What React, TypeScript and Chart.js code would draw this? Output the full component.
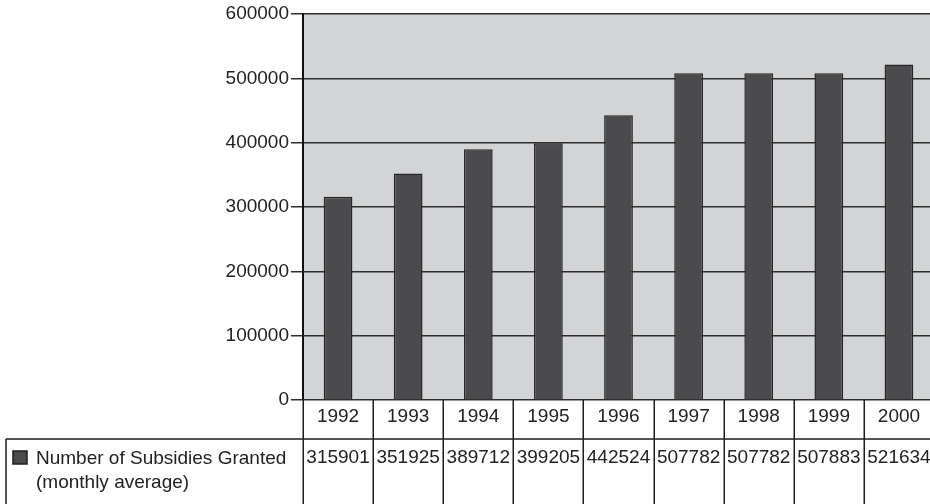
import { useEffect, useRef } from 'react';
import { Chart, registerables } from 'chart.js';

Chart.register(...registerables);

const FONT = '"Liberation Sans", Arial, Helvetica, sans-serif';

const years = ['1992', '1993', '1994', '1995', '1996', '1997', '1998', '1999', '2000'];
const subsidies = [315901, 351925, 389712, 399205, 442524, 507782, 507782, 507883, 521634];
const seriesLabelLines = ['Number of Subsidies Granted', '(monthly average)'];
const yMin = 0;
const yMax = 600000;
const yStep = 100000;

export default function App() {
  const ref = useRef<HTMLCanvasElement>(null);

  useEffect(() => {
    document.body.style.margin = '0';
    if (!ref.current) return;

    const bgPlugin = {
      id: 'plotBg',
      beforeDraw(chart: any) {
        const { ctx, chartArea: a } = chart;
        ctx.save();
        ctx.fillStyle = '#d3d4d6';
        ctx.fillRect(a.left, a.top, a.right - a.left, a.bottom - a.top);
        ctx.restore();
      },
    };

    const tablePlugin = {
      id: 'dataTable',
      afterDraw(chart: any) {
        const { ctx, chartArea: a } = chart;
        const x = chart.scales.x;
        const n = years.length;
        const step = x.getPixelForValue(1) - x.getPixelForValue(0);
        const first = x.getPixelForValue(0) - step / 2;
        const rowTop = a.bottom;
        const row1Bottom = rowTop + 39;
        const bottom = chart.height;
        const tableLeft = 6;

        ctx.save();
        ctx.strokeStyle = '#1e1e1e';
        ctx.lineWidth = 1.5;
        ctx.beginPath();
        for (let i = 0; i <= n; i++) {
          const bx = Math.round(first + i * step) + 0.25;
          ctx.moveTo(bx, rowTop);
          ctx.lineTo(bx, bottom);
        }
        ctx.moveTo(tableLeft, row1Bottom);
        ctx.lineTo(chart.width, row1Bottom);
        ctx.moveTo(tableLeft, row1Bottom);
        ctx.lineTo(tableLeft, bottom);
        ctx.stroke();

        ctx.fillStyle = '#222';
        ctx.font = `19px ${FONT}`;
        ctx.textAlign = 'center';
        ctx.textBaseline = 'middle';
        for (let i = 0; i < n; i++) {
          const cx = x.getPixelForValue(i);
          ctx.fillText(years[i], cx, rowTop + 17);
          ctx.fillText(String(subsidies[i]), cx, row1Bottom + 19);
        }

        // legend key
        ctx.fillStyle = '#4b4b4d';
        ctx.fillRect(13, 451, 14, 13);
        ctx.strokeStyle = '#1e1e1e';
        ctx.lineWidth = 1.5;
        ctx.strokeRect(13, 451, 14, 13);

        ctx.fillStyle = '#222';
        ctx.textAlign = 'left';
        ctx.fillText(seriesLabelLines[0], 36, row1Bottom + 20);
        ctx.fillText(seriesLabelLines[1], 36, row1Bottom + 44);
        ctx.restore();
      },
    };

    const chart = new Chart(ref.current, {
      type: 'bar',
      data: {
        labels: years,
        datasets: [
          {
            label: seriesLabelLines.join(' '),
            data: subsidies,
            backgroundColor: '#4b4b4d',
            borderColor: '#262626',
            borderWidth: 1.5,
            barPercentage: 0.41,
            categoryPercentage: 1,
          },
        ],
      },
      options: {
        responsive: false,
        animation: false,
        layout: { padding: { top: 14, bottom: 104, left: 0, right: 0 } },
        plugins: {
          legend: { display: false },
          tooltip: { enabled: false },
        },
        scales: {
          x: { display: false },
          y: {
            min: yMin,
            max: yMax,
            afterFit(s: any) {
              s.width = 303;
            },
            ticks: {
              stepSize: yStep,
              callback: (v: any) => String(v),
              font: { family: FONT, size: 19 },
              color: '#222',
              padding: 2,
            },
            grid: {
              color: '#2e2e2e',
              lineWidth: 1.5,
              tickLength: 12,
              drawTicks: true,
            },
            border: { display: true, color: '#111', width: 2 },
          },
        },
      },
      plugins: [bgPlugin, tablePlugin],
    } as any);

    return () => chart.destroy();
  }, []);

  return (
    <div style={{ width: 930, height: 504, overflow: 'hidden' }}>
      <canvas ref={ref} width={934} height={504} style={{ display: 'block' }} />
    </div>
  );
}
